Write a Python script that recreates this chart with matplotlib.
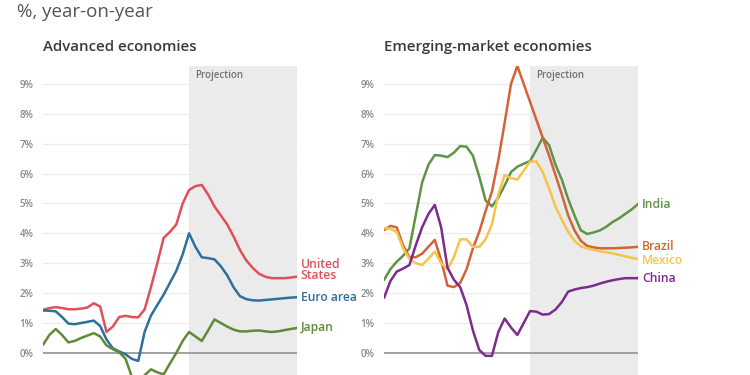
import matplotlib
matplotlib.use('Agg')
import matplotlib.pyplot as plt
import numpy as np

plt.rcParams['font.family'] = ['Open Sans', 'DejaVu Sans']

# quarters, projection starts at quarter 23
quarters = list(range(41))
proj_start = 23

us = [1.44, 1.50, 1.53, 1.50, 1.46, 1.46, 1.48, 1.52, 1.66, 1.55, 0.70, 0.88, 1.20, 1.24, 1.20, 1.19,
      1.45, 2.20, 3.00, 3.85, 4.05, 4.30, 5.00, 5.45, 5.58, 5.62, 5.30, 4.90, 4.60, 4.30, 3.90, 3.45,
      3.10, 2.85, 2.65, 2.55, 2.50, 2.50, 2.50, 2.52, 2.55]
euro = [1.42, 1.41, 1.39, 1.20, 0.98, 0.96, 1.00, 1.04, 1.08, 0.90, 0.45, 0.15, 0.05, -0.05, -0.20, -0.27,
        0.70, 1.25, 1.60, 1.95, 2.35, 2.75, 3.30, 4.00, 3.55, 3.20, 3.17, 3.13, 2.90, 2.60, 2.20, 1.90,
        1.80, 1.76, 1.75, 1.77, 1.79, 1.81, 1.83, 1.85, 1.86]
japan = [0.27, 0.60, 0.80, 0.60, 0.35, 0.40, 0.50, 0.58, 0.66, 0.55, 0.25, 0.12, 0.02, -0.20, -0.80, -1.00,
         -0.75, -0.55, -0.65, -0.72, -0.35, 0.00, 0.40, 0.70, 0.55, 0.40, 0.75, 1.12, 1.00, 0.88, 0.78, 0.72,
         0.72, 0.74, 0.75, 0.72, 0.70, 0.72, 0.76, 0.80, 0.83]

india = [2.44, 2.80, 3.05, 3.25, 3.50, 4.60, 5.70, 6.30, 6.62, 6.60, 6.55, 6.70, 6.92, 6.90, 6.60, 5.90,
         5.10, 4.90, 5.20, 5.60, 6.05, 6.23, 6.33, 6.42, 6.80, 7.20, 6.95, 6.30, 5.80, 5.15, 4.60, 4.10,
         3.98, 4.03, 4.10, 4.22, 4.38, 4.50, 4.65, 4.80, 4.98]
brazil = [4.11, 4.25, 4.20, 3.60, 3.20, 3.20, 3.32, 3.55, 3.78, 3.10, 2.25, 2.20, 2.34, 2.80, 3.50, 4.05,
          4.75, 5.40, 6.45, 7.70, 9.00, 9.60, 9.00, 8.40, 7.80, 7.20, 6.60, 5.95, 5.30, 4.60, 4.10, 3.75,
          3.58, 3.53, 3.50, 3.50, 3.50, 3.51, 3.52, 3.53, 3.55]
mexico = [4.18, 4.15, 4.05, 3.50, 3.15, 3.00, 2.94, 3.15, 3.39, 3.00, 2.80, 3.20, 3.80, 3.80, 3.55, 3.55,
          3.80, 4.30, 5.30, 5.95, 5.85, 5.80, 6.10, 6.40, 6.40, 6.05, 5.50, 4.90, 4.45, 4.05, 3.75, 3.56,
          3.50, 3.45, 3.40, 3.37, 3.33, 3.28, 3.23, 3.18, 3.14]
china = [1.84, 2.40, 2.72, 2.82, 2.94, 3.60, 4.20, 4.65, 4.95, 4.20, 2.85, 2.45, 2.20, 1.60, 0.75, 0.10,
         -0.10, -0.10, 0.70, 1.15, 0.85, 0.60, 1.00, 1.40, 1.38, 1.28, 1.30, 1.45, 1.70, 2.05, 2.12, 2.17,
         2.20, 2.25, 2.32, 2.38, 2.43, 2.47, 2.50, 2.50, 2.50]

yticks = list(range(10))
ytick_labels = [f'{t}%' for t in yticks]

panels = [
    ('Advanced economies', 43,
     [(us, '#e0505a', ['United', 'States'], 2.78),
      (euro, '#2e6f9e', ['Euro area'], 1.86),
      (japan, '#5e8a3a', ['Japan'], 0.84)]),
    ('Emerging-market economies', 384,
     [(india, '#5f9446', ['India'], 4.98),
      (brazil, '#d2643a', ['Brazil'], 3.56),
      (mexico, '#f7c44a', ['Mexico'], 3.10),
      (china, '#7b2d8e', ['China'], 2.50)]),
]

fig = plt.figure(figsize=(7.5, 3.75), dpi=100)
fig.text(17 / 750, 1 - 12 / 375, '%, year-on-year', fontsize=13.5, color='#555555',
         fontweight='medium', va='center', ha='left')

for title, left_px, series in panels:
    ax = fig.add_axes([left_px / 750, 0, 254 / 750, (375 - 66) / 375])
    ax.set_xlim(0, 40)
    ax.set_ylim(-0.74, 9.6)
    ax.axvspan(proj_start, 40, color='#ebebeb', zorder=0, lw=0)
    for t in yticks[1:]:
        ax.axhline(t, color='#ececec', lw=0.9, zorder=1)
    ax.axhline(0, color='#9a9a9a', lw=1.3, zorder=1)
    ax.text(proj_start + 1, 9.27, 'Projection', fontsize=7, color='#707070',
            fontweight='semibold', va='center', ha='left')
    for vals, color, label, ly in series:
        ax.plot(quarters, vals, color=color, lw=1.8, zorder=3, clip_on=True,
                solid_capstyle='round', solid_joinstyle='round')
        ax.text(40.6, ly, '\n'.join(label), color=color, fontsize=8.7,
                fontweight='semibold', va='center', ha='left', linespacing=0.85)
    ax.set_yticks(yticks)
    ax.set_yticklabels(ytick_labels)
    ax.tick_params(axis='y', length=0, pad=7, labelsize=7, labelcolor='#8a8a8a')
    for lbl in ax.get_yticklabels():
        lbl.set_fontweight('semibold')
    ax.set_xticks([])
    for sp in ax.spines.values():
        sp.set_visible(False)
    ax.patch.set_alpha(0)
    fig.text(left_px / 750, 1 - 47 / 375, title, fontsize=10.8, color='#3a3a3a',
             fontweight='semibold', va='center', ha='left')

fig.savefig('out.png', dpi=100)
